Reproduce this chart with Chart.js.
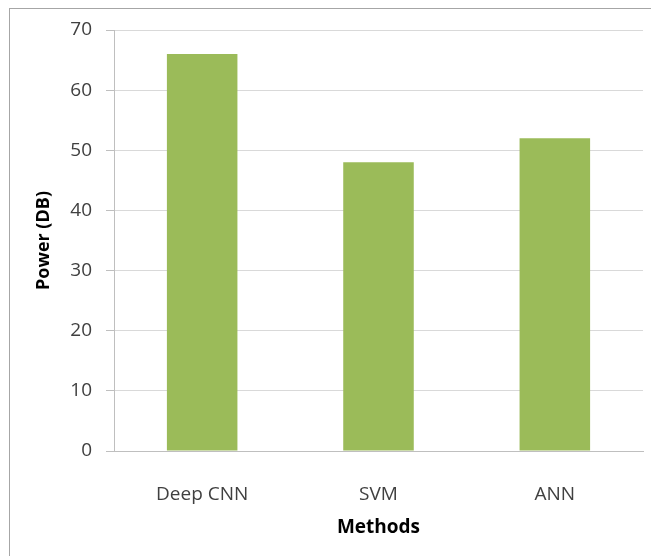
<!DOCTYPE html>
<html>
<head>
<meta charset="utf-8">
<script src="https://cdn.jsdelivr.net/npm/chart.js@4"></script>
<style>
  body { margin: 0; background: #fff; }
  #frame { position: absolute; left: 9px; top: 8px; width: 700px; height: 600px; border: 1px solid #a6a6a6; }
  #wrap { position: absolute; left: 0; top: 0; width: 651px; height: 556px; }
</style>
</head>
<body>
<div id="frame"></div>
<div id="wrap"><canvas id="powerChart" width="651" height="556"></canvas></div>
<script>
// chart values
const methods = ['Deep CNN', 'SVM', 'ANN'];
const power = [66, 48, 52];
const yTicks = [0, 10, 20, 30, 40, 50, 60, 70];

const fontFamily = '"Open Sans", sans-serif';

const ctx = document.getElementById('powerChart').getContext('2d');
const powerChart = new Chart(ctx, {
    type: 'bar',
    data: {
        labels: methods,
        datasets: [{
            label: 'Power',
            data: power,
            backgroundColor: '#9bbb59',
            borderWidth: 0,
            categoryPercentage: 1,
            barPercentage: 0.4
        }]
    },
    options: {
        responsive: false,
        animation: false,
        layout: { padding: { top: 30, right: 8, left: 0, bottom: 0 } },
        plugins: { legend: { display: false }, tooltip: { enabled: false } },
        scales: {
            y: {
                min: 0,
                max: 70,
                afterBuildTicks: scale => { scale.ticks = yTicks.map(v => ({ value: v })); },
                afterFit: scale => { scale.width = 114; },
                border: { display: true, color: '#bfbfbf', width: 1 },
                grid: { color: '#d9d9d9', tickLength: 8, tickColor: '#bfbfbf' },
                ticks: { color: '#404040', font: { family: fontFamily, size: 19 }, padding: 14 },
                title: {
                    display: true,
                    text: 'Power (DB)',
                    color: '#000',
                    font: { family: fontFamily, size: 18, weight: 'bold' },
                    padding: { top: 33, bottom: 0 }
                }
            },
            x: {
                afterFit: scale => { scale.height = 105; },
                border: { display: true, color: '#bfbfbf', width: 1 },
                grid: { display: false },
                ticks: { color: '#404040', font: { family: fontFamily, size: 19 }, padding: 24 },
                title: {
                    display: true,
                    text: 'Methods',
                    color: '#000',
                    font: { family: fontFamily, size: 19, weight: 'bold' },
                    padding: { top: 0, bottom: 17 }
                }
            }
        }
    }
});
</script>
</body>
</html>
